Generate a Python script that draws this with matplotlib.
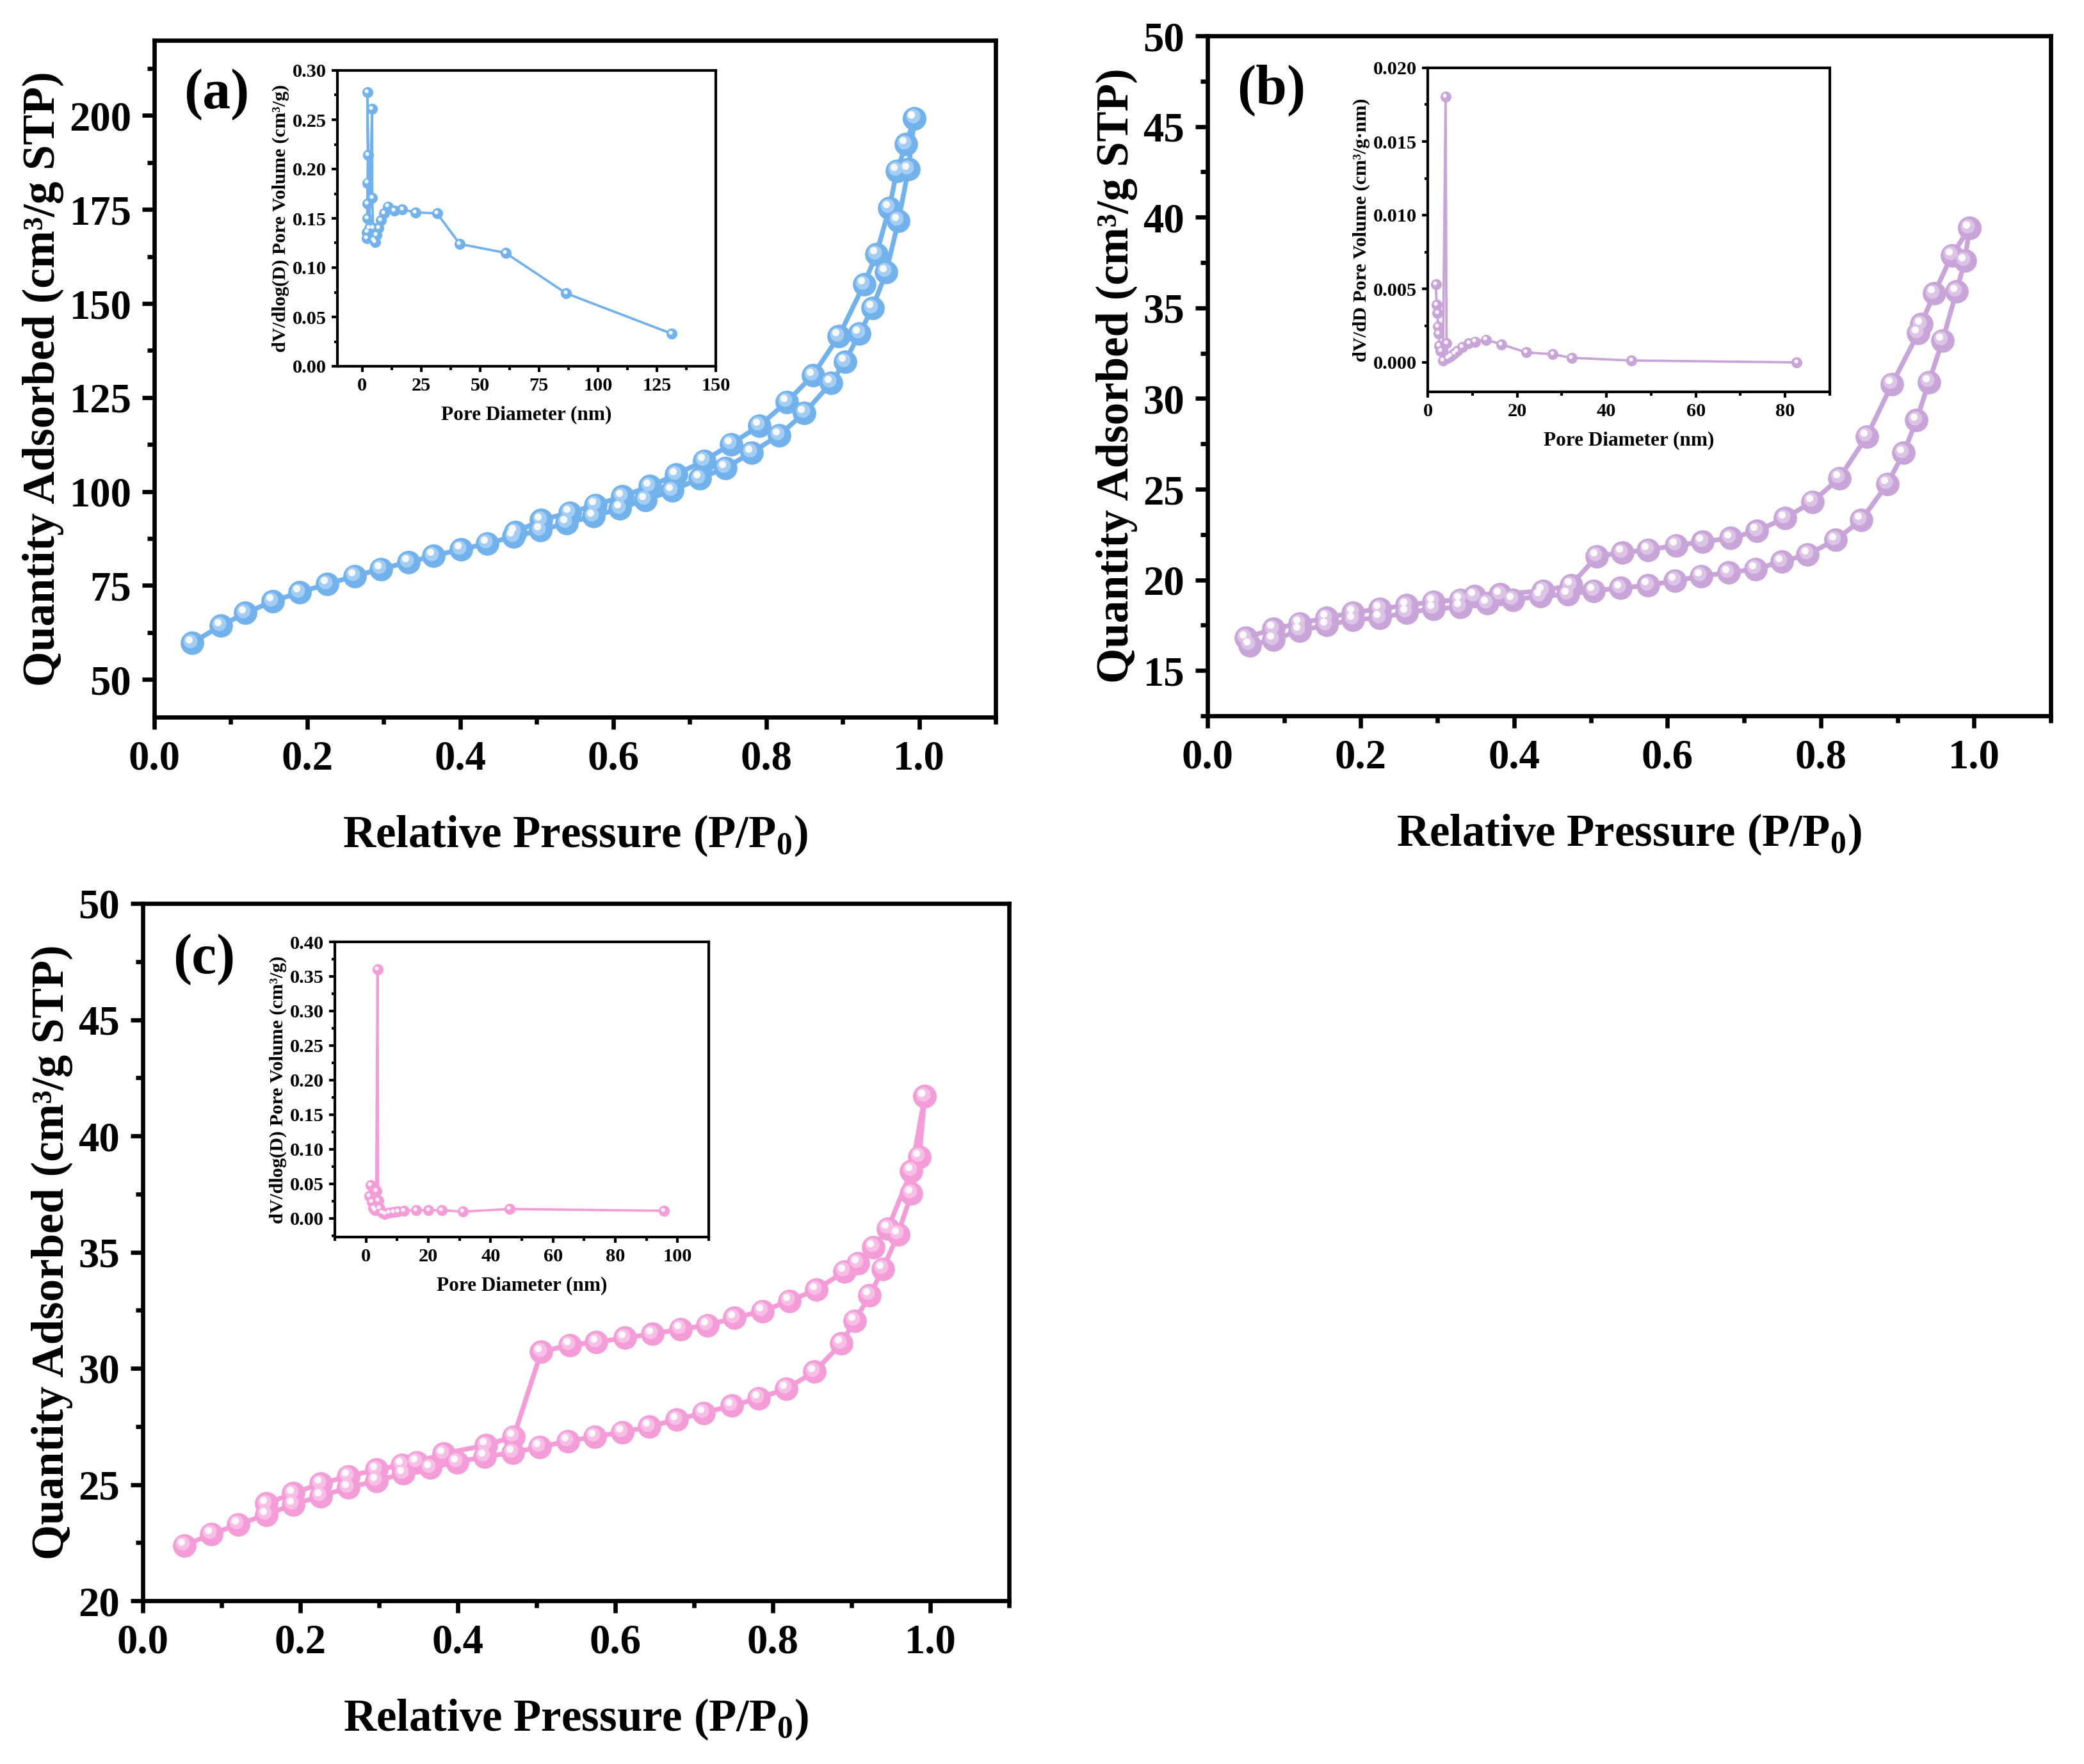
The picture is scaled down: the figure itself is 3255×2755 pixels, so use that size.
import matplotlib
matplotlib.use('Agg')
import matplotlib.pyplot as plt
import matplotlib.transforms as mtransforms
from matplotlib.ticker import MultipleLocator
import numpy as np

plt.rcParams['font.family'] = ['Liberation Serif', 'DejaVu Serif']
plt.rcParams['font.weight'] = 'bold'
plt.rcParams['axes.labelweight'] = 'bold'
plt.rcParams['mathtext.fontset'] = 'custom'
plt.rcParams['mathtext.rm'] = 'Liberation Serif:bold'
plt.rcParams['mathtext.bf'] = 'Liberation Serif:bold'

# ---- panel (a) isotherm ----
a_ads_p = [0.049, 0.087, 0.119, 0.155, 0.190, 0.226, 0.262, 0.296, 0.332, 0.365, 0.401, 0.435,
           0.470, 0.505, 0.539, 0.574, 0.609, 0.642, 0.677, 0.713, 0.747, 0.781, 0.817, 0.850,
           0.885, 0.903, 0.922, 0.939, 0.957, 0.973, 0.986, 0.994]
a_ads_q = [59.7, 64.3, 67.7, 70.8, 73.2, 75.4, 77.5, 79.4, 81.2, 82.9, 84.6, 86.2,
           88.0, 89.7, 91.6, 93.4, 95.5, 97.8, 100.2, 103.5, 106.3, 110.4, 115.0, 120.9,
           128.9, 134.5, 142.0, 148.8, 158.4, 172.0, 185.7, 199.3]
a_des_p = [0.994, 0.983, 0.971, 0.961, 0.944, 0.928, 0.895, 0.861, 0.827, 0.791, 0.754, 0.719,
           0.682, 0.648, 0.612, 0.577, 0.543, 0.506, 0.472]
a_des_q = [199.3, 192.4, 185.3, 175.4, 163.1, 155.1, 141.3, 130.9, 123.8, 117.5, 112.6, 108.2,
           104.5, 101.4, 98.7, 96.4, 94.4, 92.4, 89.2]
# inset (a) pore size distribution
a_pore_d = [2.0, 2.1, 2.2, 2.2, 2.3, 2.4, 2.2, 3.0, 4.2, 4.3, 4.6, 5.0, 5.5, 6.1, 7.0, 8.0,
            9.2, 10.9, 13.6, 17.0, 22.6, 31.8, 41.4, 60.8, 86.5, 131.3]
a_pore_v = [0.130, 0.136, 0.150, 0.165, 0.186, 0.214, 0.278, 0.140, 0.261, 0.171, 0.140, 0.128,
            0.126, 0.133, 0.140, 0.148, 0.155, 0.162, 0.158, 0.159, 0.156, 0.155, 0.124, 0.115,
            0.074, 0.033]

# ---- panel (b) isotherm ----
b_ads_p = [0.055, 0.086, 0.120, 0.155, 0.190, 0.225, 0.260, 0.295, 0.330, 0.365, 0.398, 0.434,
           0.470, 0.504, 0.539, 0.575, 0.610, 0.644, 0.680, 0.715, 0.749, 0.783, 0.819, 0.853,
           0.887, 0.908, 0.925, 0.941, 0.959, 0.977, 0.988, 0.994]
b_ads_q = [16.4, 16.7, 17.2, 17.5, 17.8, 17.9, 18.2, 18.4, 18.5, 18.7, 18.9, 19.1,
           19.2, 19.4, 19.55, 19.7, 19.95, 20.2, 20.4, 20.6, 21.0, 21.4, 22.2, 23.3,
           25.3, 27.0, 28.8, 30.9, 33.2, 35.9, 37.6, 39.4]
b_des_p = [0.994, 0.971, 0.948, 0.931, 0.927, 0.893, 0.860, 0.824, 0.789, 0.753, 0.717, 0.682,
           0.646, 0.611, 0.575, 0.541, 0.508, 0.474, 0.438, 0.382, 0.348, 0.330, 0.295, 0.260,
           0.225, 0.190, 0.155, 0.120, 0.086, 0.050]
b_des_q = [39.4, 37.9, 35.8, 34.1, 33.6, 30.8, 27.9, 25.6, 24.3, 23.4, 22.7, 22.3,
           22.1, 21.9, 21.65, 21.5, 21.3, 19.7, 19.4, 19.2, 19.1, 18.9, 18.8, 18.6,
           18.4, 18.2, 17.9, 17.6, 17.3, 16.8]
b_pore_d = [1.8, 2.0, 2.2, 2.3, 2.4, 2.6, 2.9, 3.4, 4.0, 4.2, 4.5, 5.1, 5.9, 6.6, 7.7, 9.2,
            10.6, 13.0, 16.5, 22.0, 28.0, 32.2, 45.6, 82.6]
b_pore_v = [0.00532, 0.0039, 0.00334, 0.00242, 0.00196, 0.00114, 0.00077, 0.00013, 0.01806,
            0.00132, 0.0003, 0.00044, 0.00059, 0.00077, 0.00105, 0.00132, 0.00141, 0.00154,
            0.00123, 0.00068, 0.00055, 0.00031, 0.00013, 0.0]

# ---- panel (c) isotherm ----
c_ads_p = [0.053, 0.087, 0.121, 0.157, 0.191, 0.226, 0.261, 0.297, 0.331, 0.365, 0.399, 0.434,
           0.470, 0.504, 0.540, 0.574, 0.609, 0.643, 0.678, 0.712, 0.748, 0.782, 0.817, 0.853,
           0.887, 0.904, 0.923, 0.940, 0.959, 0.976, 0.986, 0.993]
c_ads_q = [22.38, 22.87, 23.28, 23.70, 24.14, 24.50, 24.87, 25.16, 25.47, 25.72, 25.96, 26.20,
           26.37, 26.62, 26.86, 27.06, 27.25, 27.49, 27.79, 28.08, 28.39, 28.71, 29.12, 29.85,
           31.07, 32.04, 33.14, 34.28, 35.77, 37.52, 39.10, 41.70]
c_des_p = [0.993, 0.976, 0.946, 0.928, 0.908, 0.891, 0.855, 0.821, 0.787, 0.751, 0.717, 0.683,
           0.647, 0.612, 0.576, 0.542, 0.506, 0.471, 0.436, 0.382, 0.348, 0.329, 0.297, 0.261,
           0.226, 0.191, 0.157]
c_des_q = [41.70, 38.49, 36.01, 35.21, 34.53, 34.16, 33.38, 32.90, 32.46, 32.17, 31.85, 31.68,
           31.48, 31.31, 31.12, 31.00, 30.71, 27.06, 26.69, 26.33, 25.96, 25.84, 25.64, 25.35,
           25.04, 24.62, 24.18]
c_pore_d = [1.0, 1.5, 1.9, 2.4, 2.9, 3.3, 3.7, 3.9, 4.4, 5.2, 6.1, 7.3, 8.8, 10.2, 12.2, 16.1,
            20.1, 24.3, 31.1, 46.0, 95.6]
c_pore_v = [0.032, 0.048, 0.024, 0.015, 0.012, 0.040, 0.360, 0.026, 0.015, 0.008, 0.006, 0.008,
            0.0088, 0.0098, 0.011, 0.0117, 0.0117, 0.0117, 0.0098, 0.0135, 0.011]

colors = {'a': '#72B2EC', 'b': '#C8A4D8', 'c': '#F49CD8'}

W, H = 3255, 2755
fig = plt.figure(figsize=(W / 300, H / 300), dpi=300)


def box(l, r, t, b):
    return [l / W, 1 - b / H, (r - l) / W, (b - t) / H]


def lighten(c, f):
    rgb = np.array(matplotlib.colors.to_rgb(c))
    return tuple(rgb + (1 - rgb) * f)


def balls(ax, x, y, color, ms, lw):
    ax.plot(x, y, '-', color=color, lw=lw, zorder=2)
    ax.plot(x, y, 'o', ms=ms, mfc=color, mec=color, mew=0.3, zorder=3)
    t1 = mtransforms.offset_copy(ax.transData, fig=fig, x=-ms * 0.08, y=ms * 0.1, units='points')
    ax.plot(x, y, 'o', ms=ms * 0.62, mfc=lighten(color, 0.35), mec='none', transform=t1, zorder=4)
    t2 = mtransforms.offset_copy(ax.transData, fig=fig, x=-ms * 0.14, y=ms * 0.16, units='points')
    ax.plot(x, y, 'o', ms=ms * 0.32, mfc='white', mec='none', alpha=0.9, transform=t2, zorder=5)


def style(ax, fs, spw, tl):
    for s in ax.spines.values():
        s.set_linewidth(spw)
    ax.tick_params(which='major', direction='out', length=tl, width=spw, labelsize=fs, pad=tl * 0.9)
    ax.tick_params(which='minor', direction='out', length=tl * 0.6, width=spw)
    ax.tick_params(top=False, right=False)
    for lab in ax.get_xticklabels() + ax.get_yticklabels():
        lab.set_fontweight('bold')


def main_panel(rect, ads_p, ads_q, des_p, des_q, color, ylim, ymaj, letter):
    ax = fig.add_axes(rect)
    balls(ax, ads_p, ads_q, color, 8.5, 1.8)
    balls(ax, des_p, des_q, color, 8.5, 1.8)
    ax.set_xlim(0, 1.1)
    ax.set_ylim(*ylim)
    ax.xaxis.set_major_locator(MultipleLocator(0.2))
    ax.xaxis.set_minor_locator(MultipleLocator(0.1))
    ax.yaxis.set_major_locator(MultipleLocator(ymaj))
    ax.yaxis.set_minor_locator(MultipleLocator(ymaj / 2))
    style(ax, 15.5, 1.6, 4.5)
    ax.set_xticks([0.0, 0.2, 0.4, 0.6, 0.8, 1.0])
    ax.set_xticklabels(['0.0', '0.2', '0.4', '0.6', '0.8', '1.0'], fontweight='bold')
    ax.set_xlabel(r'Relative Pressure (P/P$_{\mathbf{0}}$)', fontsize=17, labelpad=13)
    ax.set_ylabel('Quantity Adsorbed (cm³/g STP)', fontsize=17, labelpad=2)
    ax.text(0.035, 0.92, letter, transform=ax.transAxes, fontsize=21, fontweight='bold',
            va='center', ha='left')
    return ax


def inset(rect, d, v, color, xlim, xmaj, ylim, ymaj, yfmt, ylabel):
    ax = fig.add_axes(rect)
    ax.plot(d, v, '-', color=color, lw=0.9, zorder=2)
    ax.plot(d, v, 'o', ms=3.8, mfc=color, mec=color, mew=0.3, zorder=3)
    t2 = mtransforms.offset_copy(ax.transData, fig=fig, x=-0.4, y=0.5, units='points')
    ax.plot(d, v, 'o', ms=1.5, mfc='white', mec='none', alpha=0.9, transform=t2, zorder=4)
    ax.set_xlim(*xlim)
    ax.set_ylim(*ylim)
    ax.xaxis.set_major_locator(MultipleLocator(xmaj))
    ax.xaxis.set_minor_locator(MultipleLocator(xmaj / 2))
    ax.yaxis.set_major_locator(MultipleLocator(ymaj))
    ax.yaxis.set_minor_locator(MultipleLocator(ymaj / 2))
    ax.yaxis.set_major_formatter(matplotlib.ticker.FormatStrFormatter(yfmt))
    style(ax, 7.3, 1.0, 2.2)
    ax.set_xlabel('Pore Diameter (nm)', fontsize=7.5, labelpad=4)
    ax.set_ylabel(ylabel, fontsize=7.3, labelpad=1)
    return ax


main_panel(box(241, 1555, 63, 1120), a_ads_p, a_ads_q, a_des_p, a_des_q, colors['a'],
           (40, 220), 25, '(a)')
inset(box(527, 1118, 110, 572), a_pore_d, a_pore_v, colors['a'], (-10.5, 150), 25,
      (0, 0.30), 0.05, '%.2f', 'dV/dlog(D) Pore Volume (cm³/g)')

main_panel(box(1886, 3203, 56, 1118), b_ads_p, b_ads_q, b_des_p, b_des_q, colors['b'],
           (12.5, 50), 5, '(b)')
inset(box(2230, 2858, 106, 612), b_pore_d, b_pore_v, colors['b'], (0, 90), 20,
      (-0.002, 0.020), 0.005, '%.3f', 'dV/dD Pore Volume (cm³/g·nm)')

main_panel(box(223, 1576, 1411, 2500), c_ads_p, c_ads_q, c_des_p, c_des_q, colors['c'],
           (20, 50), 5, '(c)')
inset(box(523, 1107, 1471, 1932), c_pore_d, c_pore_v, colors['c'], (-10, 110), 20,
      (-0.027, 0.40), 0.05, '%.2f', 'dV/dlog(D) Pore Volume (cm³/g)')

fig.savefig('out.png', dpi=300, facecolor='white')
